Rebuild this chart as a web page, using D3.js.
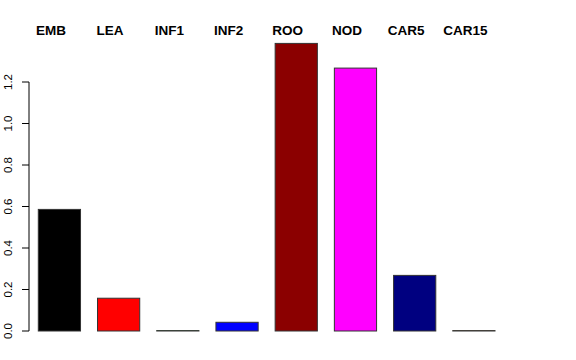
<!DOCTYPE html>
<html>
<head>
<meta charset="utf-8">
<script src="https://cdn.jsdelivr.net/npm/d3@7"></script>
<style>
  body { margin: 0; background: #fff; }
  text { font-family: "Liberation Sans", Arial, sans-serif; }
</style>
</head>
<body>
<script>
// bar data
var categories = ["EMB", "LEA", "INF1", "INF2", "ROO", "NOD", "CAR5", "CAR15"];
var values = [0.586, 0.158, 0.002, 0.042, 1.386, 1.267, 0.268, 0.002];
var colors = ["#000000", "#ff0000", "#00cd00", "#0000ff", "#8b0000", "#ff00ff", "#000080", "#ffa500"];
var yTicks = [0, 0.2, 0.4, 0.6, 0.8, 1.0, 1.2];

var width = 576, height = 360;

var svg = d3.select("body").append("svg")
  .attr("width", width)
  .attr("height", height);

// scales
var x = d3.scaleBand()
  .domain(categories)
  .range([38.3, 495])
  .paddingInner(0.287)
  .paddingOuter(0);

var y = d3.scaleLinear()
  .domain([0, 1.2])
  .range([331, 82]);

// bars
svg.selectAll(".bar")
  .data(values)
  .enter().append("rect")
  .attr("class", "bar")
  .attr("x", function (d, i) { return x(categories[i]); })
  .attr("y", function (d) { return y(d); })
  .attr("width", x.bandwidth())
  .attr("height", function (d) { return y(0) - y(d); })
  .attr("fill", function (d, i) { return colors[i]; })
  .attr("stroke", "#333")
  .attr("stroke-width", 1);

// y axis, R style
var axis = svg.append("g").attr("class", "yaxis");
axis.append("line")
  .attr("x1", 29).attr("x2", 29)
  .attr("y1", y(0)).attr("y2", y(1.2))
  .attr("stroke", "#000");
axis.selectAll(".tick")
  .data(yTicks)
  .enter().append("line")
  .attr("x1", 22).attr("x2", 29)
  .attr("y1", function (d) { return y(d); })
  .attr("y2", function (d) { return y(d); })
  .attr("stroke", "#000");
axis.selectAll(".lab")
  .data(yTicks)
  .enter().append("text")
  .attr("transform", function (d) { return "translate(12," + y(d) + ") rotate(-90)"; })
  .attr("text-anchor", "middle")
  .attr("font-size", 11.5)
  .text(function (d) { return d3.format(".1f")(d); });

// category labels across the top
svg.selectAll(".cat")
  .data(categories)
  .enter().append("text")
  .attr("x", function (d) { return x(d) + x.bandwidth() / 2 - 8.5; })
  .attr("y", 35)
  .attr("text-anchor", "middle")
  .attr("font-size", 13.5)
  .attr("font-weight", "bold")
  .text(function (d) { return d; });
</script>
</body>
</html>
